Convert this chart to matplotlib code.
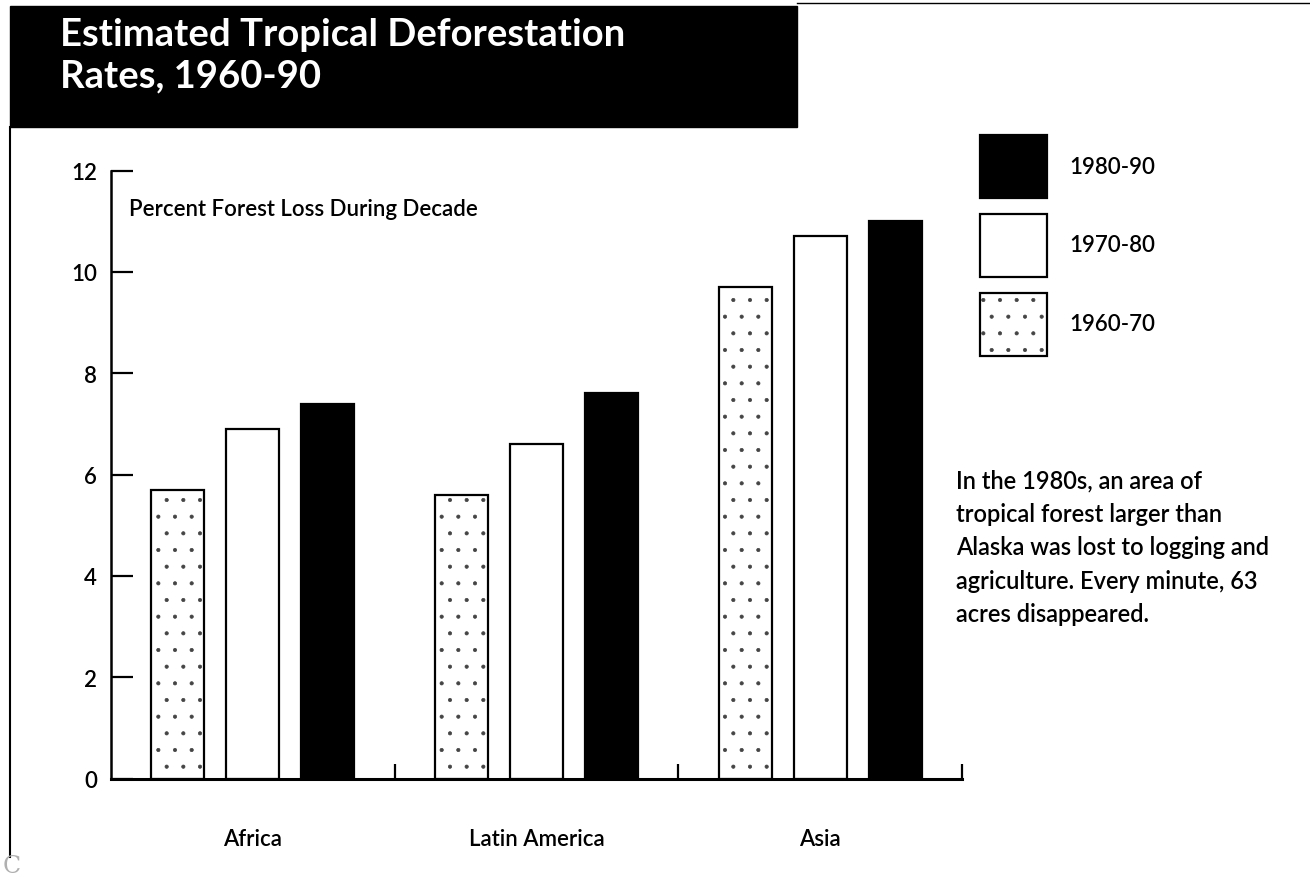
import numpy as np
import matplotlib.pyplot as plt
from matplotlib.lines import Line2D
from matplotlib.patches import Rectangle
from matplotlib.legend_handler import HandlerTuple

plt.rcParams['font.family'] = ['Lato', 'DejaVu Sans']
plt.rcParams['font.weight'] = 'semibold'
plt.rcParams['hatch.linewidth'] = 0.5

regions = ['Africa', 'Latin America', 'Asia']
decades = ['1960-70', '1970-80', '1980-90']
loss_1960s = [5.7, 5.6, 9.7]
loss_1970s = [6.9, 6.6, 10.7]
loss_1980s = [7.4, 7.6, 11.0]
yticks = [0, 2, 4, 6, 8, 10, 12]

W, H = 1310, 878
fig = plt.figure(figsize=(W / 100, H / 100), dpi=100)

# pixel -> figure fraction helpers (pixels counted from the top-left)
def fx(px):
    return px / W

def fy(py):
    return 1 - py / H

ax = fig.add_axes([fx(111), fy(779.5), fx(962) - fx(111), fy(171.5) - fy(779.5)])

x = np.arange(len(regions))
step = 0.264
width = 0.187

# 1960-70: stippled (dots first, outline on top)
dots = ax.bar(x - step, loss_1960s, width, color='white', edgecolor='#444444',
              linewidth=0, hatch='.')
b60 = ax.bar(x - step, loss_1960s, width, fill=False, edgecolor='black', linewidth=1.6)
b70 = ax.bar(x, loss_1970s, width, color='white', edgecolor='black', linewidth=1.6)
b80 = ax.bar(x + step, loss_1980s, width, color='black', edgecolor='black', linewidth=1.6)

ax.set_xlim(-0.5, 2.5)
ax.set_ylim(0, 12)
for s in ['top', 'right']:
    ax.spines[s].set_visible(False)
ax.spines['left'].set_linewidth(1.8)
ax.spines['bottom'].set_linewidth(2.2)

ax.set_yticks(yticks)
ax.tick_params(axis='y', direction='in', length=16, width=1.6, pad=10, labelsize=16)
# short upward ticks between the groups, region names underneath
ax.set_xticks([0.5, 1.5, 2.5])
ax.set_xticklabels([])
ax.set_xticks(x, minor=True)
ax.set_xticklabels(regions, minor=True)
ax.tick_params(axis='x', which='major', direction='in', length=11, width=1.6)
ax.tick_params(axis='x', which='minor', length=0, pad=36, labelsize=16)

ax.text(0.021, 0.938, 'Percent Forest Loss During Decade', transform=ax.transAxes,
        va='center', fontsize=16)

# legend, newest decade on top
fig.legend([b80, b70, (dots, b60)], [decades[2], decades[1], decades[0]],
           handler_map={tuple: HandlerTuple(ndivide=1)},
           loc='upper left', bbox_to_anchor=(fx(980), fy(136)), frameon=False,
           fontsize=16, handlelength=3.0, handleheight=4.0, labelspacing=0.7,
           handletextpad=1.0, borderpad=0, borderaxespad=0)

# black title block
fig.patches.append(Rectangle((fx(10), fy(128)), fx(797) - fx(10), fy(7) - fy(128),
                             transform=fig.transFigure, color='black'))
fig.text(fx(60), fy(46), 'Estimated Tropical Deforestation', color='white',
         fontsize=27.5, weight='bold', va='baseline')
fig.text(fx(60), fy(87), 'Rates, 1960-90', color='white',
         fontsize=27.5, weight='bold', va='baseline')

# frame rules
fig.add_artist(Line2D([fx(797), 1], [fy(4), fy(4)], color='black', lw=1))
fig.add_artist(Line2D([fx(10), fx(10)], [fy(128), fy(858)], color='black', lw=1.5))

note = ("In the 1980s, an area of\ntropical forest larger than\n"
        "Alaska was lost to logging and\nagriculture. Every minute, 63\n"
        "acres disappeared.")
# multi-line text: baseline refers to the last line
fig.text(fx(956), fy(622), note, va='baseline', fontsize=17, linespacing=1.55)

fig.text(fx(3), fy(873), 'C', color='#b0b0b0', fontsize=17, weight='normal',
         family='DejaVu Serif', va='baseline')

fig.savefig('out.png', dpi=100)
